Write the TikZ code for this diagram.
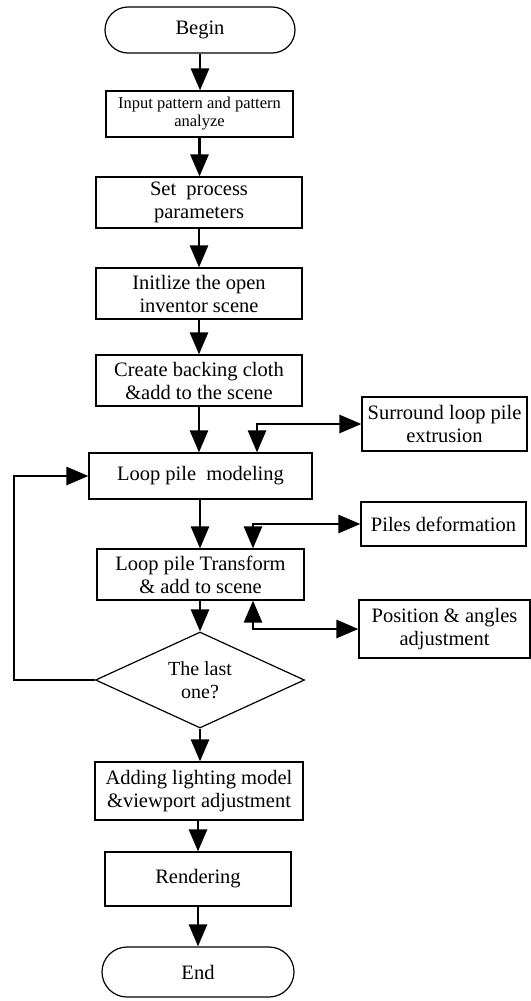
\documentclass[tikz,border=0pt]{standalone}
\usepackage{fontspec}
\setmainfont{Liberation Serif}
\usetikzlibrary{arrows.meta,shapes.geometric}
\begin{document}
\begin{tikzpicture}[x=1pt,y=-1pt,
  box/.style={draw,line width=1.2pt,inner sep=0pt,align=center,
    font=\fontsize{20.5}{23}\selectfont},
  term/.style={box,rounded corners=23pt},
  decision/.style={draw,line width=1.2pt,shape=diamond,inner sep=0pt,
    aspect=2.18,align=center,font=\fontsize{20}{23}\selectfont},
  arr/.style={line width=2.8pt,-{Triangle[length=22pt,width=18pt]}},
  biarr/.style={line width=2.8pt,{Triangle[length=22pt,width=18pt]}-{Triangle[length=22pt,width=18pt]}},
  line/.style={line width=2.8pt}]
\useasboundingbox (0,0) rectangle (530,1001);

% main column
\node[term,minimum width=190pt,minimum height=46pt] (begin) at (200,30) {Begin};
\node[box,minimum width=187pt,minimum height=46pt,
  font=\fontsize{16.5}{18}\selectfont] (input) at (199.5,114)
  {Input pattern and pattern\\analyze};
\node[box,minimum width=206pt,minimum height=51pt] (set) at (199,202.5)
  {Set~ process\\parameters};
\node[box,minimum width=206pt,minimum height=51pt] (init) at (199,293.5)
  {Initlize the open\\inventor scene};
\node[box,minimum width=206pt,minimum height=51pt] (create) at (199,380.5)
  {Create backing cloth\\\&add to the scene};
\node[box,minimum width=223pt,minimum height=46pt] (model) at (200.5,476)
  {Loop pile~ modeling};
\node[box,minimum width=207pt,minimum height=51pt] (transform) at (200.5,574.5)
  {Loop pile Transform\\\& add to scene};
\node[decision,minimum width=209pt,minimum height=96pt] (last) at (200,680)
  {The last\\one?};
\node[box,minimum width=208pt,minimum height=58pt] (light) at (199,791)
  {Adding lighting model\\\&viewport adjustment};
\node[box,minimum width=186pt,minimum height=54pt] (render) at (198,879)
  {Rendering};
\node[term,rounded corners=25pt,minimum width=192pt,minimum height=50pt] (end) at (198,972)
  {End};

% side boxes
\node[box,minimum width=165pt,minimum height=54pt] (surround) at (444.5,424)
  {Surround loop pile\\extrusion};
\node[box,minimum width=165pt,minimum height=44pt] (piles) at (443.5,524)
  {Piles deformation};
\node[box,minimum width=171pt,minimum height=58pt] (position) at (444.5,629)
  {Position \& angles\\adjustment};

% main flow
\draw[arr] (begin.south) -- (begin.south |- input.north);
\draw[arr] (input.south) -- (input.south |- set.north);
\draw[arr] (set.south) -- (set.south |- init.north);
\draw[arr] (init.south) -- (init.south |- create.north);
\draw[arr] (create.south) -- (create.south |- model.north);
\draw[arr] ([xshift=-0.5pt]model.south) -- ([xshift=-0.5pt]model.south |- transform.north);
\draw[arr] (last.north |- transform.south) -- (last.north);
\draw[arr] (last.south) -- (last.south |- light.north);
\draw[arr] (light.south -| render.north) -- (render.north);
\draw[arr] (render.south) -- (render.south |- end.north);

% side connections
\draw[biarr] ([xshift=56.5pt]model.north) |- (surround.west);
\draw[biarr] ([xshift=52.5pt]transform.north) |- (piles.west);
\draw[biarr] ([xshift=52.5pt]transform.south) |- (position.west);

% loop back
\draw[arr] (last.west) -- ++(-81,0) |- (model.west);
\end{tikzpicture}
\end{document}
